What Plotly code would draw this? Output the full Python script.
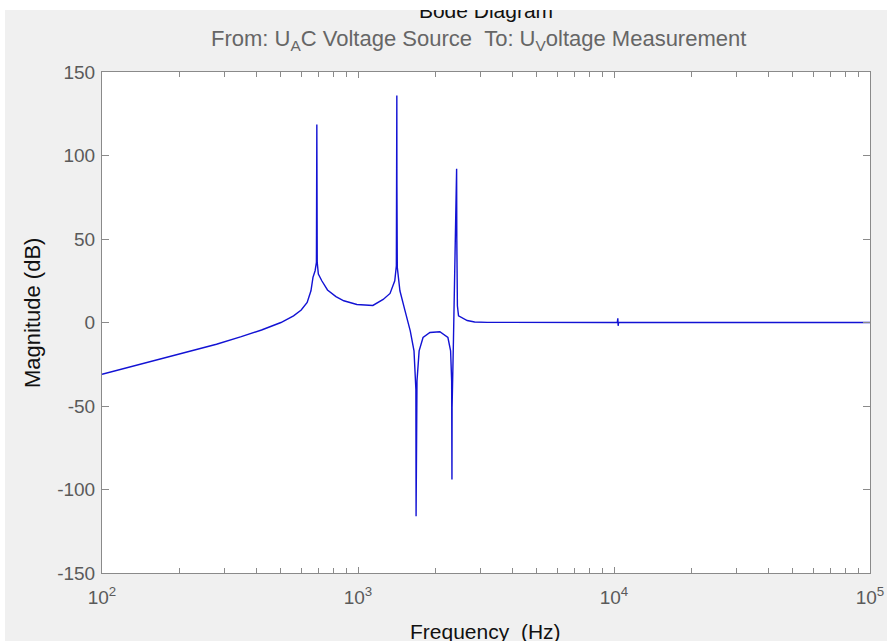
import plotly.graph_objects as go

# Magnitude response of the AC-source -> voltage-measurement path
freq_hz = [100, 130, 170, 220, 280, 350, 420, 500, 560, 600, 633, 655, 667, 680, 688,
           690.5, 691, 693, 700, 722, 760, 820, 880, 990, 1143, 1254, 1334, 1392, 1412,
           1418, 1419, 1424, 1458, 1527, 1600, 1655, 1683, 1686, 1688, 1700, 1733, 1795,
           1910, 2088, 2245, 2300, 2322, 2328, 2331, 2360, 2400, 2428, 2432, 2445, 2470,
           2560, 2671, 2855, 3200, 10000, 10300, 10350, 10380, 10420, 100000]
mag_db = [-31, -26.5, -22, -17.5, -13, -8.5, -4.5, 0, 4, 7.5, 12, 19, 27, 31, 36,
          118.5, 78, 36, 29, 25, 19.5, 15.5, 13, 10.8, 10.2, 13.8, 17.4, 25, 34,
          136, 83, 33, 19, 7, -5, -17, -40, -116, -71, -35, -17, -9,
          -6, -5.5, -9, -17, -35, -94, -51, -10, 40, 92, 50, 10, 4,
          2.5, 1.2, 0.3, 0.1, 0, 0, 2.5, -2, 0, 0]

x_major = [100, 1000, 10000, 100000]
x_major_text = ["10<sup>2</sup>", "10<sup>3</sup>", "10<sup>4</sup>", "10<sup>5</sup>"]
x_minor = [m * d for d in (100, 1000, 10000) for m in range(2, 10)]
y_ticks = [-150, -100, -50, 0, 50, 100, 150]
y_tick_text = ["-150", "-100", "-50", "0", "50", "100", "150"]

title_text = "Bode Diagram"
subtitle_text = "From: U<sub>A</sub>C Voltage Source&nbsp;&nbsp;To: U<sub>V</sub>oltage Measurement"
x_label = "Frequency&nbsp;&nbsp;(Hz)"
y_label = "Magnitude (dB)"

W, H = 887, 641
PL, PR, PT, PB = 102, 870, 72, 573  # plot box in pixels
AX_GREY = "#8a8a8a"
LBL_GREY = "#5a5a5a"
FONT = "Liberation Sans, Arial, sans-serif"


def px_x(p):
    return p / W


def px_y(p):
    return (H - p) / H


fig = go.Figure()

fig.add_trace(go.Scatter(
    x=freq_hz, y=mag_db, mode="lines",
    line=dict(color="#1212d4", width=1.4),
    hoverinfo="skip", showlegend=False,
))

# Title lives in a thin strip so its upper part is cut off by the strip edge
fig.add_trace(go.Scatter(
    x=[px_x(486)], y=[0.84], mode="text", text=[title_text],
    textfont=dict(family=FONT, size=21, color="#111111"),
    textposition="middle center", cliponaxis=True,
    xaxis="x2", yaxis="y2", hoverinfo="skip", showlegend=False,
))

axis_common = dict(
    showline=True, linecolor=AX_GREY, linewidth=1, mirror="ticks",
    ticks="inside", tickcolor=AX_GREY, showgrid=False, zeroline=False,
    automargin=False,
    tickfont=dict(family=FONT, size=19, color=LBL_GREY),
)

fig.update_layout(
    template="none",
    width=W, height=H, autosize=False,
    margin=dict(l=0, r=0, t=0, b=0, pad=0),
    paper_bgcolor="#f0f0f0", plot_bgcolor="rgba(0,0,0,0)",
    xaxis=dict(
        type="log", range=[2, 5], domain=[px_x(PL), px_x(PR)],
        tickmode="array", tickvals=x_major, ticktext=x_major_text,
        ticklen=6, ticklabelstandoff=7,
        minor=dict(ticks="inside", tickmode="array", tickvals=x_minor,
                   ticklen=5, tickcolor=AX_GREY, showgrid=False),
        **axis_common,
    ),
    yaxis=dict(
        range=[-150, 150], domain=[px_y(PB), px_y(PT)],
        tickmode="array", tickvals=y_ticks, ticktext=y_tick_text, ticklen=7,
        ticklabelstandoff=2,
        **axis_common,
    ),
    xaxis2=dict(domain=[0, 1], range=[0, 1], visible=False, fixedrange=True,
                automargin=False),
    yaxis2=dict(domain=[px_y(30), px_y(10)], range=[0, 1], visible=False,
                fixedrange=True, anchor="x2", automargin=False),
    shapes=[
        dict(type="rect", xref="x domain", yref="y domain", x0=0, x1=1, y0=0, y1=1,
             fillcolor="white", line=dict(width=0), layer="below"),
        dict(type="rect", xref="paper", yref="paper", x0=0, x1=1, y0=px_y(10), y1=1,
             fillcolor="white", line=dict(width=0), layer="below"),
        dict(type="rect", xref="paper", yref="paper", x0=0, x1=px_x(5), y0=0, y1=1,
             fillcolor="white", line=dict(width=0), layer="below"),
    ],
    annotations=[
        dict(text=subtitle_text, xref="paper", yref="paper", x=px_x(478), y=px_y(40),
             xanchor="center", yanchor="middle", showarrow=False,
             font=dict(family=FONT, size=22, color="#666666")),
        dict(text=x_label, xref="paper", yref="paper", x=px_x(485), y=px_y(631),
             xanchor="center", yanchor="middle", showarrow=False,
             font=dict(family=FONT, size=21, color="#111111")),
        dict(text=y_label, xref="paper", yref="paper", x=px_x(32), y=px_y(313),
             xanchor="center", yanchor="middle", showarrow=False, textangle=-90,
             font=dict(family=FONT, size=22, color="#111111")),
    ],
)

fig.write_html("out.html")
